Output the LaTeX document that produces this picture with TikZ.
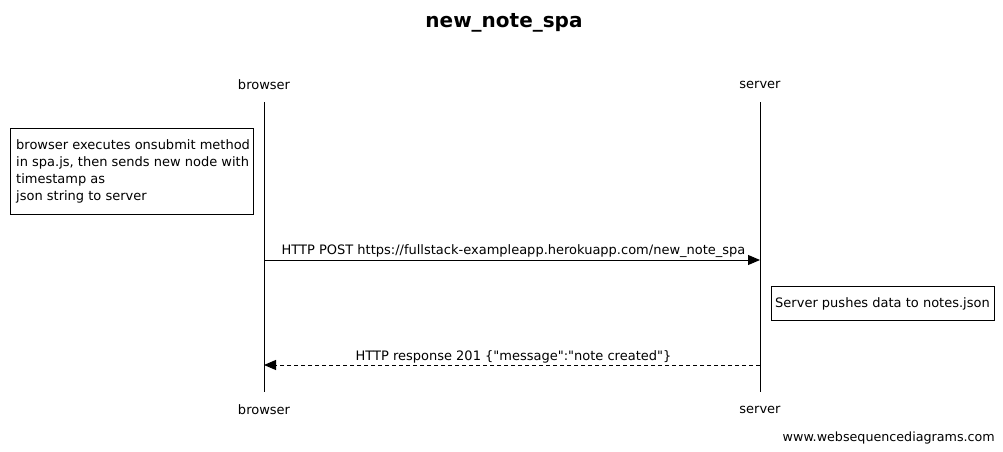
\documentclass[tikz,border=0pt]{standalone}
\usepackage{fontspec}
\setmainfont{DejaVu Sans}[Ligatures=TeXOff]
\usetikzlibrary{arrows.meta}
\begin{document}
\begin{tikzpicture}[x=1pt,y=-1pt,
  lbl/.style={font=\fontsize{13}{17}\selectfont, inner sep=0pt},
  life/.style={draw=black, line width=0.9pt},
  notebox/.style={draw=black, line width=0.9pt, fill=white, font=\fontsize{13}{17}\selectfont, align=left, inner sep=0pt},
  msg/.style={line width=0.9pt, -{Triangle[length=12pt,width=10pt]}},
  reply/.style={msg, dash pattern=on 4pt off 3pt}]
\useasboundingbox (0,0) rectangle (1003,452);
\node[font=\fontsize{20}{24}\selectfont\bfseries] (title) at (504,23) {new\_note\_spa};
\node[lbl] (bt) at (264,84.5) {browser};
\node[lbl] (st) at (760,84.5) {server};
\node[lbl] (bb) at (264,409.5) {browser};
\node[lbl] (sb) at (760,409.5) {server};
\coordinate (b0) at (264,102);
\coordinate (b1) at (264,392);
\coordinate (s0) at (760,102);
\coordinate (s1) at (760,392);
\draw[life] (b0) -- (b1);
\draw[life] (s0) -- (s1);
\draw[notebox] (10,128) rectangle (253,214);
\node[lbl, anchor=north west, align=left] (n1) at (16,139) {browser executes onsubmit method\\in spa.js, then sends new node with\\timestamp as\\json string to server};
\coordinate (m1a) at (264,260);
\coordinate (m1b) at (760,260);
\draw[msg] (m1a) -- (m1b);
\node[lbl] (m1l) at (513.5,251) {HTTP POST https://fullstack-exampleapp.herokuapp.com/new\_note\_spa};
\draw[notebox] (771,286) rectangle (994,320);
\node[lbl] (n2) at (882.5,303.5) {Server pushes data to notes.json};
\coordinate (m2a) at (760,365);
\coordinate (m2b) at (264,365);
\draw[reply] (m2a) -- (m2b);
\node[lbl] (m2l) at (513.5,357) {HTTP response 201 \{"message":"note created"\}};
\node[lbl, font=\fontsize{12.7}{17}\selectfont, anchor=east] (wm) at (995,437.5) {www.websequencediagrams.com};
\end{tikzpicture}
\end{document}
